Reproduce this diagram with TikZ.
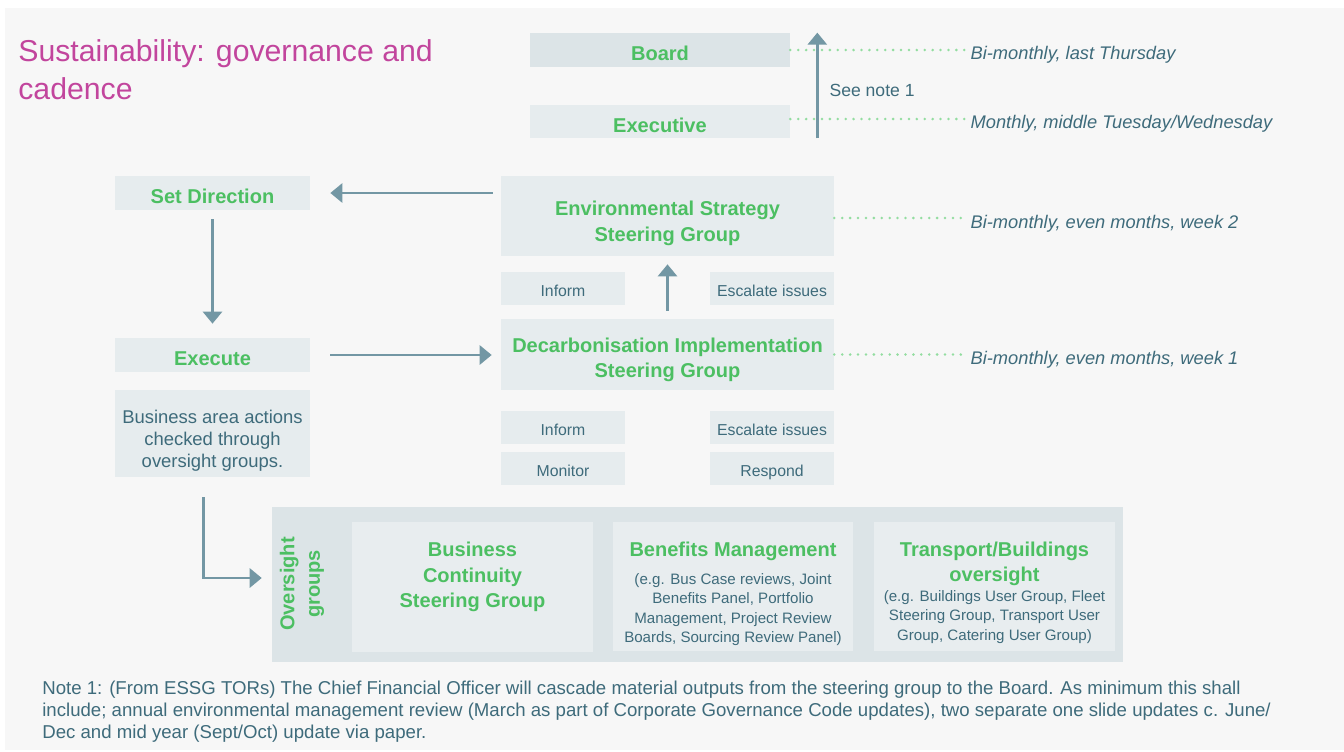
\documentclass[tikz,border=0pt]{standalone}
\usepackage{fontspec}
\setmainfont{Liberation Sans}
\usetikzlibrary{arrows.meta}

\definecolor{pagebg}{HTML}{F7F7F7}
\definecolor{boxfill}{HTML}{E6ECEE}
\definecolor{boxdark}{HTML}{DCE4E7}
\definecolor{innerfill}{HTML}{E8EDEF}
\definecolor{groupgreen}{HTML}{4CBF62}
\definecolor{bodytext}{HTML}{3E6B7B}
\definecolor{arrowcol}{HTML}{7397A4}
\definecolor{titlecol}{HTML}{C2459D}
\definecolor{dotcol}{HTML}{93DDA0}

\begin{document}
\begin{tikzpicture}[x=0.02cm,y=-0.02cm,
    box/.style={fill=boxfill, inner sep=0pt, align=center},
    head/.style={text=groupgreen, font=\fontsize{11.4}{14.6}\selectfont\bfseries, align=center},
    onehead/.style={head, text height=15pt, text depth=2.85pt},
    small/.style={text=bodytext, font=\fontsize{9}{11}\selectfont, text height=11.6pt, text depth=2.25pt},
    cadence/.style={text=bodytext, font=\fontsize{10.4}{12.5}\selectfont\itshape, anchor=west, inner sep=3pt},
    detail/.style={text=bodytext, font=\fontsize{8.6}{11}\selectfont, align=center},
    arr/.style={draw=arrowcol, line width=1.6pt, -{Triangle[width=0.38cm,length=0.24cm]}},
    dots/.style={draw=dotcol, line width=1.6pt, line cap=round, dash pattern=on 0pt off 4.5pt}]

    % Page
    \useasboundingbox (0,0) rectangle (1344,751);
    \fill[white] (0,0) rectangle (1344,751);
    \fill[pagebg] (5,8) rectangle (1344,750);

    % Title
    \node[anchor=north west, inner sep=0pt, align=left, text=titlecol,
          font=\fontsize{17.2}{22}\selectfont] (title) at (18,39)
          {Sustainability: governance and\\cadence};

    % Board and Executive
    \node[box, fill=boxdark, minimum width=5.2cm, minimum height=0.68cm, onehead] (board) at (660,50) {Board};
    \node[box, minimum width=5.2cm, minimum height=0.66cm, onehead] (exec) at (660,121.5) {Executive};
    \draw[arr] ([xshift=0.54cm]exec.south east) -- ([xshift=0.54cm]board.north east)
        node[midway, right, text=bodytext, font=\fontsize{10}{12}\selectfont, xshift=0.1cm, yshift=-0.1cm] (seenote) {See note 1};

    % Left column
    \node[box, minimum width=3.9cm, minimum height=0.68cm, onehead] (setdir) at (212.5,193) {Set Direction};
    \node[box, minimum width=3.9cm, minimum height=0.68cm, onehead] (execute) at (212.5,355) {Execute};
    \node[box, minimum width=3.9cm, minimum height=1.74cm] (biz) at (212.5,433.5) {};
    \node[text=bodytext, align=center, font=\fontsize{10.5}{12.5}\selectfont] (biztext) at (212.5,440.5)
          {Business area actions\\checked through\\oversight groups.};

    % Steering groups
    \node[box, minimum width=6.66cm, minimum height=1.6cm] (essg) at (667.5,216) {};
    \node[head] (essgtext) at (667.5,223.5) {Environmental Strategy\\Steering Group};
    \node[box, minimum width=2.48cm, minimum height=0.66cm, small] (inform1) at (563,288.5) {Inform};
    \node[box, minimum width=2.48cm, minimum height=0.66cm, small] (escalate1) at (772,288.5) {Escalate issues};
    \node[box, minimum width=6.66cm, minimum height=1.42cm] (disg) at (667.5,354.5) {};
    \node[head] (disgtext) at (667.5,360) {Decarbonisation Implementation\\Steering Group};
    \node[box, minimum width=2.48cm, minimum height=0.66cm, small] (inform2) at (563,427.5) {Inform};
    \node[box, minimum width=2.48cm, minimum height=0.66cm, small] (escalate2) at (772,427.5) {Escalate issues};
    \node[box, minimum width=2.48cm, minimum height=0.66cm, small] (monitor) at (563,468.5) {Monitor};
    \node[box, minimum width=2.48cm, minimum height=0.66cm, small] (respond) at (772,468.5) {Respond};

    % Cadence
    \node[cadence] (cadboard) at (965,55) {Bi-monthly, last Thursday};
    \node[cadence] (cadexec) at (965,124) {Monthly, middle Tuesday/Wednesday};
    \node[cadence] (cadessg) at (965,224) {Bi-monthly, even months, week 2};
    \node[cadence] (caddisg) at (965,360) {Bi-monthly, even months, week 1};
    \draw[dots] (board.east) -- (board.east -| cadboard.west);
    \draw[dots] ([yshift=0.05cm]exec.east) -- ([yshift=0.05cm]exec.east -| cadexec.west);
    \draw[dots] ([yshift=-0.04cm]essg.east) -- ([yshift=-0.04cm]essg.east -| cadessg.west);
    \draw[dots] (disg.east) -- (disg.east -| caddisg.west);

    % Oversight groups
    \node[box, fill=boxdark, minimum width=17.02cm, minimum height=3.1cm] (oversight) at (697.5,584.5) {};
    \node[head, rotate=90] (ovlabel) at (302,584) {Oversight\\groups};
    \node[box, fill=innerfill, minimum width=4.82cm, minimum height=2.6cm] (bcsg) at (472.5,587) {};
    \node[head] (bcsgtext) at (472.5,577) {Business\\Continuity\\Steering Group};
    \node[box, fill=innerfill, minimum width=4.8cm, minimum height=2.58cm] (benefits) at (733,586.5) {};
    \node[head] (benefitstext) at (733,551) {Benefits Management};
    \node[detail] (benefitsdetail) at (733,609.5)
          {(e.g. Bus Case reviews, Joint\\Benefits Panel, Portfolio\\Management, Project Review\\Boards, Sourcing Review Panel)};
    \node[box, fill=innerfill, minimum width=4.82cm, minimum height=2.58cm] (transport) at (994.5,586.5) {};
    \node[head] (transporttext) at (994.5,564) {Transport/Buildings\\oversight};
    \node[detail] (transportdetail) at (994.5,617)
          {(e.g. Buildings User Group, Fleet\\Steering Group, Transport User\\Group, Catering User Group)};

    % Flow
    \draw[arr, shorten <=0.16cm, shorten >=0.4cm] (essg.west |- setdir.east) -- (setdir.east);
    \draw[arr, shorten <=0.18cm, shorten >=0.28cm] (setdir.south) -- (execute.north);
    \draw[arr, shorten <=0.4cm, shorten >=0.18cm] (execute.east) -- (execute.east -| disg.west);
    \draw[arr, shorten <=0.16cm, shorten >=0.16cm] (disg.north) -- (essg.south);
    \draw[arr, shorten >=0.2cm] ([xshift=-0.18cm,yshift=-0.4cm]biz.south) |- ([yshift=0.13cm]oversight.west);

    % Note
    \node[anchor=north west, inner sep=0pt, align=left, text=bodytext,
          font=\fontsize{10.6}{12.5}\selectfont] (note) at (42,681)
          {Note 1: (From ESSG TORs) The Chief Financial Officer will cascade material outputs from the steering group to the Board. As minimum this shall\\
           include; annual environmental management review (March as part of Corporate Governance Code updates), two separate one slide updates c. June/\\
           Dec and mid year (Sept/Oct) update via paper.};
\end{tikzpicture}
\end{document}
